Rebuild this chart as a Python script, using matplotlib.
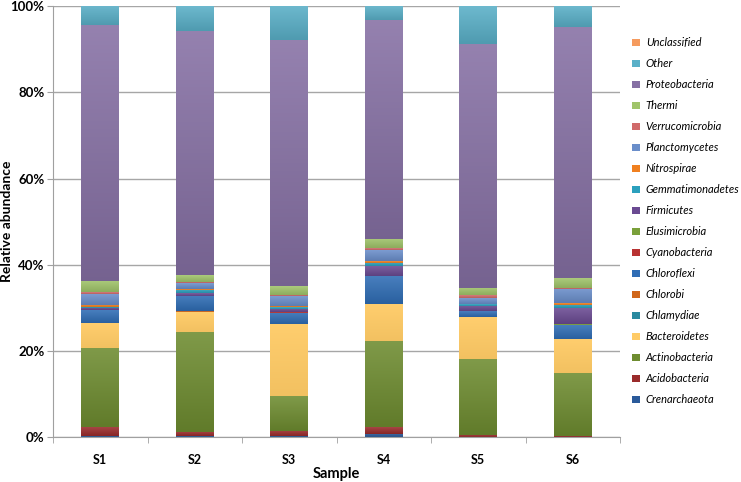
import numpy as np
import matplotlib
matplotlib.use("Agg")
import matplotlib.pyplot as plt
from matplotlib.colors import LinearSegmentedColormap, to_rgb
from matplotlib.patches import Patch

plt.rcParams['font.family'] = ['Lato', 'DejaVu Sans']

samples = ["S1", "S2", "S3", "S4", "S5", "S6"]

# stacked from bottom to top, percent of reads
phyla = ["Crenarchaeota", "Acidobacteria", "Actinobacteria", "Bacteroidetes",
         "Chlamydiae", "Chlorobi", "Chloroflexi", "Cyanobacteria",
         "Elusimicrobia", "Firmicutes", "Gemmatimonadetes", "Nitrospirae",
         "Planctomycetes", "Verrucomicrobia", "Thermi", "Proteobacteria",
         "Other", "Unclassified"]

crenarchaeota    = [0.3, 0.3, 0.3, 0.85, 0.0, 0.0]
acidobacteria    = [2.0, 1.0, 1.2, 1.5, 0.5, 0.3]
actinobacteria   = [18.5, 23.2, 8.0, 20.0, 17.6, 14.5]
bacteroidetes    = [5.6, 4.6, 16.7, 8.5, 9.7, 8.0]
chlamydiae       = [0.05, 0.05, 0.05, 0.05, 0.05, 0.05]
chlorobi         = [0.05, 0.05, 0.05, 0.05, 0.05, 0.05]
chloroflexi      = [2.9, 3.5, 2.6, 6.4, 1.3, 3.2]
cyanobacteria    = [0.05, 0.05, 0.05, 0.05, 0.05, 0.05]
elusimicrobia    = [0.05, 0.05, 0.05, 0.05, 0.05, 0.05]
firmicutes       = [0.5, 0.6, 0.8, 2.2, 1.2, 3.7]
gemmatimonadetes = [0.25, 0.8, 0.4, 0.85, 0.4, 0.85]
nitrospirae      = [0.5, 0.2, 0.3, 0.45, 0.1, 0.3]
planctomycetes   = [2.5, 1.3, 2.3, 2.55, 1.3, 3.25]
verrucomicrobia  = [0.4, 0.3, 0.3, 0.3, 0.6, 0.4]
thermi           = [2.6, 1.6, 2.0, 2.2, 1.7, 2.3]
proteobacteria   = [59.3, 56.7, 57.0, 50.8, 56.6, 58.2]
other            = [4.7, 5.9, 8.1, 3.4, 9.0, 5.0]
unclassified     = [0.0, 0.0, 0.0, 0.0, 0.0, 0.0]

values = [crenarchaeota, acidobacteria, actinobacteria, bacteroidetes,
          chlamydiae, chlorobi, chloroflexi, cyanobacteria, elusimicrobia,
          firmicutes, gemmatimonadetes, nitrospirae, planctomycetes,
          verrucomicrobia, thermi, proteobacteria, other, unclassified]

colors = ["#2A5A9A", "#9A2B2B", "#6E8C30", "#FFCB66", "#2A8AA0", "#D0661A",
          "#2F6DB5", "#B83232", "#7AA03A", "#6A4A92", "#2BA0BD", "#F08020",
          "#6A8ECA", "#D06A6A", "#A0C46A", "#8670A4", "#5AB0C8", "#F59B5E"]


def shade(c, f):
    r = np.array(to_rgb(c))
    if f > 0:
        return tuple(r + (1 - r) * f)
    return tuple(r * (1 + f))


fig = plt.figure(figsize=(7.41, 4.82), dpi=100)
ax = fig.add_axes([53 / 741, 1 - 437.3 / 482, 567 / 741, 431.3 / 482])

x = np.arange(len(samples))
bottom = np.zeros(len(samples))
grad = np.linspace(0, 1, 64).reshape(-1, 1)
for name, vals, col in zip(phyla, values, colors):
    bars = ax.bar(x, vals, 0.4, bottom=bottom, color=col, linewidth=0, zorder=2)
    k = 0.05 if name == "Bacteroidetes" else 0.12
    cmap = LinearSegmentedColormap.from_list(name, [shade(col, -k), shade(col, k)])
    # excel-like vertical gradient on every segment
    for rect in bars.patches:
        if rect.get_height() <= 0:
            continue
        x0, y0 = rect.get_x(), rect.get_y()
        ax.imshow(grad, extent=[x0, x0 + rect.get_width(), y0, y0 + rect.get_height()],
                  origin="lower", aspect="auto", cmap=cmap, zorder=2.1)
    bottom += np.array(vals)

ax.set_xlim(-0.5, len(samples) - 0.5)
ax.set_ylim(0, 100)
ax.set_yticks(np.arange(0, 101, 20))
ax.set_yticklabels([f"{v}%" for v in range(0, 101, 20)], fontsize=9.5, fontweight="bold")
ax.set_xticks(x)
ax.set_xticklabels(samples, fontsize=9, fontweight="bold")
ax.set_xticks(np.arange(-0.5, len(samples)), minor=True)
ax.tick_params(axis="x", which="major", length=0, pad=12)
ax.tick_params(axis="x", which="minor", length=4, color="#A0A0A0", direction="out")
ax.tick_params(axis="y", length=4, color="#A0A0A0", direction="out", pad=2)
ax.grid(axis="y", color="#A6A6A6", linewidth=1, zorder=0)
ax.set_axisbelow(True)
for s in ["top", "right"]:
    ax.spines[s].set_visible(False)
for s in ["left", "bottom"]:
    ax.spines[s].set_color("#A0A0A0")

ax.set_xlabel("Sample", fontsize=10.5, fontweight="bold")
ax.set_ylabel("Relative abundance", fontsize=10, fontweight="bold")
ax.xaxis.set_label_coords(0.5, -0.07)
ax.yaxis.set_label_coords(-0.07, 0.5)

handles = [Patch(facecolor=c, label=n) for n, c in zip(phyla, colors)][::-1]
fig.legend(handles=handles, loc="upper left", bbox_to_anchor=(628 / 741, 1 - 33 / 482),
           frameon=False, prop={"size": 8, "style": "italic"},
           handlelength=0.7, handleheight=0.7, handletextpad=0.5, labelspacing=0.9,
           borderaxespad=0)

fig.savefig("out.png", dpi=100)
